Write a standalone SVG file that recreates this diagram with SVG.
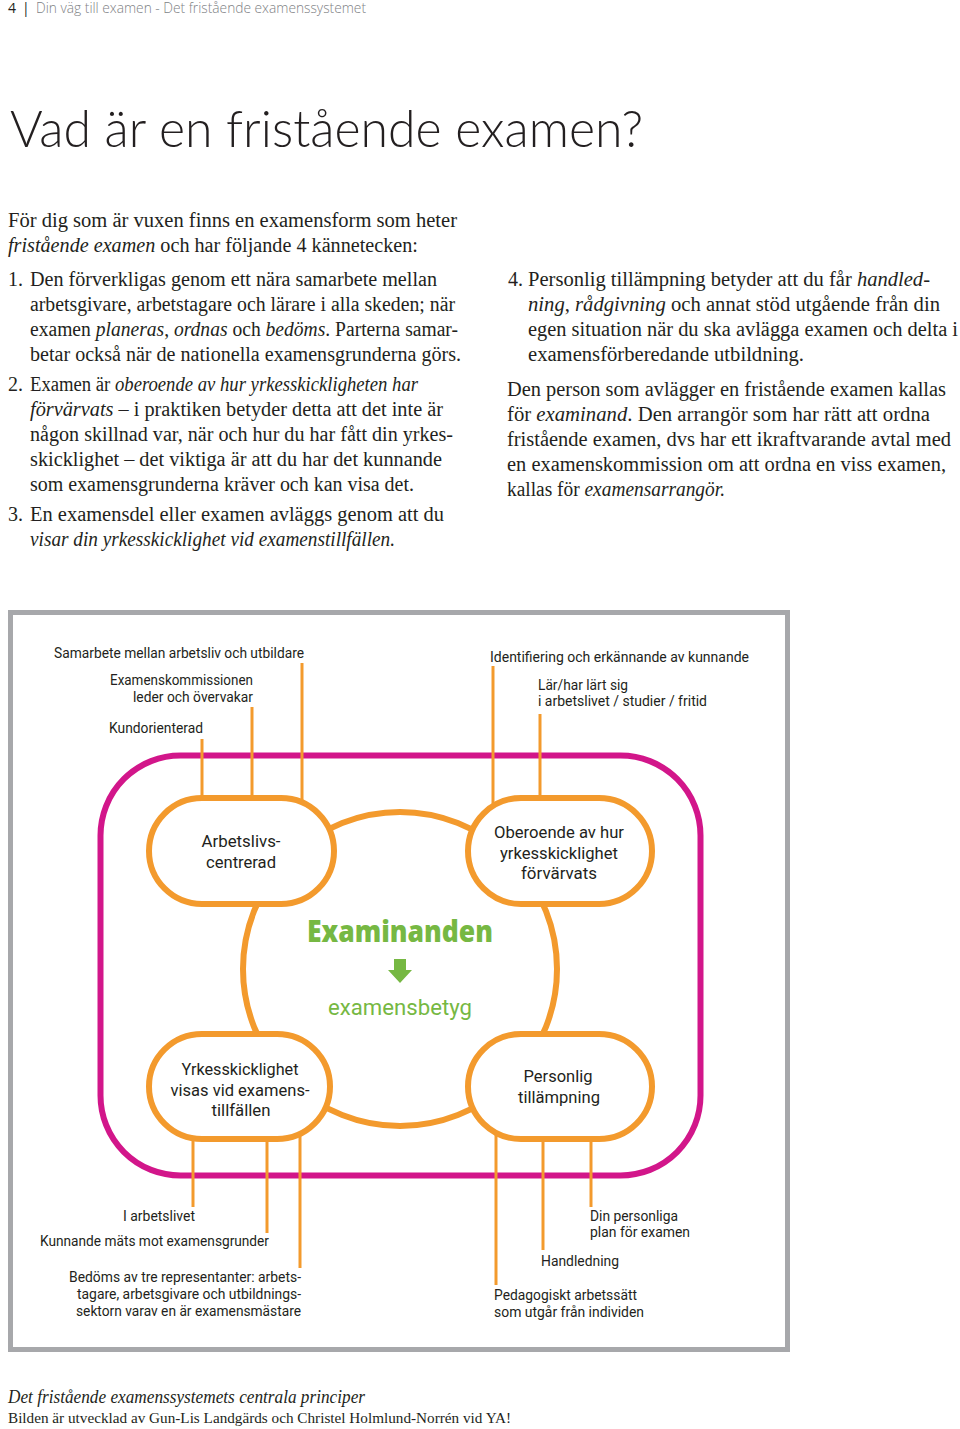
<svg xmlns="http://www.w3.org/2000/svg" width="960" height="1429" viewBox="0 0 960 1429">
<style>
.hdr{font-family:"Open Sans","Liberation Sans",sans-serif;font-size:14px;fill:#808285;font-weight:300}
.title{font-family:"Lato","Open Sans",sans-serif;font-size:52px;font-weight:300;fill:#231f20}
.body{font-family:"Liberation Serif",serif;font-size:20px;fill:#231f20}
.it{font-style:italic}
.lbl{font-family:"Roboto","Open Sans",sans-serif;font-size:14px;fill:#231f20}
.nt{font-family:"Roboto","Open Sans",sans-serif;font-size:17px;fill:#231f20;text-anchor:middle}
.node{fill:#fff;stroke:#f39a2d;stroke-width:6}
.ln{stroke:#f39a2d;stroke-width:3;fill:none}
.cap{font-family:"Liberation Serif",serif;fill:#231f20}
</style>

<!-- header -->
<text x="8" y="13" class="hdr" style="fill:#231f20;font-weight:400">4</text>
<text x="22" y="13" class="hdr" style="fill:#231f20;font-weight:400">|</text>
<text x="36" y="13" class="hdr" textLength="330" lengthAdjust="spacingAndGlyphs">Din väg till examen - Det fristående examenssystemet</text>

<text x="10" y="147" class="title" textLength="633" lengthAdjust="spacingAndGlyphs">Vad är en fristående examen?</text>

<!-- left column -->
<g class="body">
<text x="8" y="227" textLength="449" lengthAdjust="spacingAndGlyphs">För dig som är vuxen finns en examensform som heter</text>
<text x="8" y="252" textLength="410" lengthAdjust="spacingAndGlyphs"><tspan class="it">fristående examen</tspan> och har följande 4 kännetecken:</text>
<text x="8" y="286">1.</text>
<text x="30" y="286" textLength="407" lengthAdjust="spacingAndGlyphs">Den förverkligas genom ett nära samarbete mellan</text>
<text x="30" y="311" textLength="425" lengthAdjust="spacingAndGlyphs">arbetsgivare, arbetstagare och lärare i alla skeden; när</text>
<text x="30" y="336" textLength="428" lengthAdjust="spacingAndGlyphs">examen <tspan class="it">planeras</tspan>, <tspan class="it">ordnas</tspan> och <tspan class="it">bedöms</tspan>.  Parterna samar-</text>
<text x="30" y="361" textLength="431" lengthAdjust="spacingAndGlyphs">betar också när de nationella examensgrunderna görs.</text>
<text x="8" y="391">2.</text>
<text x="30" y="391" textLength="388" lengthAdjust="spacingAndGlyphs">Examen är <tspan class="it">oberoende av hur yrkesskickligheten har</tspan></text>
<text x="30" y="416" textLength="413" lengthAdjust="spacingAndGlyphs"><tspan class="it">förvärvats</tspan> – i praktiken betyder detta att det inte är</text>
<text x="30" y="441" textLength="423" lengthAdjust="spacingAndGlyphs">någon skillnad var, när och hur du har fått din yrkes-</text>
<text x="30" y="466" textLength="412" lengthAdjust="spacingAndGlyphs">skicklighet – det viktiga är att du har det kunnande</text>
<text x="30" y="491" textLength="384" lengthAdjust="spacingAndGlyphs">som examensgrunderna kräver och kan visa det.</text>
<text x="8" y="521">3.</text>
<text x="30" y="521" textLength="414" lengthAdjust="spacingAndGlyphs">En examensdel eller examen avläggs genom att du</text>
<text x="30" y="546" textLength="365" lengthAdjust="spacingAndGlyphs" class="it">visar din yrkesskicklighet vid examenstillfällen.</text>
</g>

<!-- right column -->
<g class="body">
<text x="508" y="286">4.</text>
<text x="528" y="286" textLength="402" lengthAdjust="spacingAndGlyphs">Personlig tillämpning betyder att du får <tspan class="it">handled-</tspan></text>
<text x="528" y="311" textLength="412" lengthAdjust="spacingAndGlyphs"><tspan class="it">ning</tspan>, <tspan class="it">rådgivning</tspan> och annat stöd utgående från din</text>
<text x="528" y="336" textLength="430" lengthAdjust="spacingAndGlyphs">egen situation när du ska avlägga examen och delta i</text>
<text x="528" y="361" textLength="276" lengthAdjust="spacingAndGlyphs">examensförberedande utbildning.</text>
<text x="507" y="396" textLength="439" lengthAdjust="spacingAndGlyphs">Den person som avlägger en fristående examen kallas</text>
<text x="507" y="421" textLength="423" lengthAdjust="spacingAndGlyphs">för <tspan class="it">examinand</tspan>. Den arrangör som har rätt att ordna</text>
<text x="507" y="446" textLength="444" lengthAdjust="spacingAndGlyphs">fristående examen, dvs har ett ikraftvarande avtal med</text>
<text x="507" y="471" textLength="439" lengthAdjust="spacingAndGlyphs">en examenskommission om att ordna en viss examen,</text>
<text x="507" y="496" textLength="218" lengthAdjust="spacingAndGlyphs">kallas för <tspan class="it">examensarrangör.</tspan></text>
</g>

<!-- frame -->
<rect x="10.5" y="612.5" width="777" height="737" fill="none" stroke="#a7a8ab" stroke-width="5"/>
<rect x="100.5" y="755.5" width="600" height="420" rx="80" ry="80" fill="none" stroke="#d2168a" stroke-width="6"/>

<!-- connectors -->
<g id="connectors">
<circle cx="400" cy="969" r="157" class="ln" style="stroke-width:6"/>
<line x1="202" y1="739" x2="202" y2="810" class="ln"/>
<line x1="252" y1="707" x2="252" y2="810" class="ln"/>
<line x1="302" y1="663" x2="302" y2="810" class="ln"/>
<line x1="493" y1="666" x2="493" y2="815" class="ln"/>
<line x1="540" y1="714" x2="540" y2="810" class="ln"/>
<line x1="193" y1="1125" x2="193" y2="1207" class="ln"/>
<line x1="267" y1="1125" x2="267" y2="1233" class="ln"/>
<line x1="300" y1="1125" x2="300" y2="1268" class="ln"/>
<line x1="496" y1="1125" x2="496" y2="1285" class="ln"/>
<line x1="543" y1="1125" x2="543" y2="1250" class="ln"/>
<line x1="591" y1="1125" x2="591" y2="1207" class="ln"/>
</g>

<!-- line labels -->
<g id="labels-top">
<text x="54" y="658" class="lbl" textLength="250" lengthAdjust="spacingAndGlyphs">Samarbete mellan arbetsliv och utbildare</text>
<text x="110" y="685" class="lbl" textLength="143" lengthAdjust="spacingAndGlyphs">Examenskommissionen</text>
<text x="133" y="702" class="lbl" textLength="120" lengthAdjust="spacingAndGlyphs">leder och övervakar</text>
<text x="109" y="733" class="lbl" textLength="94" lengthAdjust="spacingAndGlyphs">Kundorienterad</text>
<text x="490" y="662" class="lbl" textLength="259" lengthAdjust="spacingAndGlyphs">Identifiering och erkännande av kunnande</text>
<text x="538" y="690" class="lbl" textLength="90" lengthAdjust="spacingAndGlyphs">Lär/har lärt sig</text>
<text x="538" y="706" class="lbl" textLength="169" lengthAdjust="spacingAndGlyphs">i arbetslivet / studier / fritid</text>
</g>
<g id="labels-bottom">
<text x="123" y="1221" class="lbl" textLength="72" lengthAdjust="spacingAndGlyphs">I arbetslivet</text>
<text x="40" y="1246" class="lbl" textLength="229" lengthAdjust="spacingAndGlyphs">Kunnande mäts mot examensgrunder</text>
<text x="69" y="1282" class="lbl" textLength="232" lengthAdjust="spacingAndGlyphs">Bedöms av tre representanter: arbets-</text>
<text x="77" y="1299" class="lbl" textLength="224" lengthAdjust="spacingAndGlyphs">tagare, arbetsgivare och utbildnings-</text>
<text x="76" y="1316" class="lbl" textLength="225" lengthAdjust="spacingAndGlyphs">sektorn varav en är examensmästare</text>
<text x="590" y="1221" class="lbl" textLength="88" lengthAdjust="spacingAndGlyphs">Din personliga</text>
<text x="590" y="1237" class="lbl" textLength="100" lengthAdjust="spacingAndGlyphs">plan för examen</text>
<text x="541" y="1266" class="lbl" textLength="78" lengthAdjust="spacingAndGlyphs">Handledning</text>
<text x="494" y="1300" class="lbl" textLength="143" lengthAdjust="spacingAndGlyphs">Pedagogiskt arbetssätt</text>
<text x="494" y="1317" class="lbl" textLength="150" lengthAdjust="spacingAndGlyphs">som utgår från individen</text>
</g>

<!-- nodes -->
<g id="node-arbetslivs">
<rect x="149" y="798" width="185" height="106" rx="53" class="node"/>
<text x="241" y="847" class="nt" textLength="79" lengthAdjust="spacingAndGlyphs">Arbetslivs-</text>
<text x="241" y="868" class="nt" textLength="70" lengthAdjust="spacingAndGlyphs">centrerad</text>
</g>
<g id="node-oberoende">
<rect x="468" y="798" width="184" height="106" rx="53" class="node"/>
<text x="559" y="838" class="nt" textLength="130" lengthAdjust="spacingAndGlyphs">Oberoende av hur</text>
<text x="559" y="859" class="nt" textLength="118" lengthAdjust="spacingAndGlyphs">yrkesskicklighet</text>
<text x="559" y="879" class="nt" textLength="76" lengthAdjust="spacingAndGlyphs">förvärvats</text>
</g>
<g id="node-yrkes">
<rect x="149" y="1034" width="181" height="105" rx="53" class="node"/>
<text x="240" y="1075" class="nt" textLength="117" lengthAdjust="spacingAndGlyphs">Yrkesskicklighet</text>
<text x="240" y="1096" class="nt" textLength="139" lengthAdjust="spacingAndGlyphs">visas vid examens-</text>
<text x="241" y="1116" class="nt" textLength="59" lengthAdjust="spacingAndGlyphs">tillfällen</text>
</g>
<g id="node-personlig">
<rect x="468" y="1034" width="184" height="105" rx="53" class="node"/>
<text x="558" y="1082" class="nt" textLength="69" lengthAdjust="spacingAndGlyphs">Personlig</text>
<text x="559" y="1103" class="nt" textLength="82" lengthAdjust="spacingAndGlyphs">tillämpning</text>
</g>
<g id="node-examinanden">
<text x="400" y="942" text-anchor="middle" font-family="'Open Sans','Liberation Sans',sans-serif" font-weight="800" font-size="30" fill="#76b843" textLength="186" lengthAdjust="spacingAndGlyphs">Examinanden</text>
<polygon points="394,959 406,959 406,970 412,970 400,983 388,970 394,970" fill="#76b843"/>
<text x="400" y="1015" text-anchor="middle" font-family="'Roboto','Open Sans',sans-serif" font-size="22" fill="#76b843" textLength="144" lengthAdjust="spacingAndGlyphs">examensbetyg</text>
</g>

<!-- caption -->
<text x="8" y="1403" class="cap it" font-size="18" textLength="357" lengthAdjust="spacingAndGlyphs">Det fristående examenssystemets centrala principer</text>
<text x="8" y="1423" class="cap" font-size="15" textLength="503" lengthAdjust="spacingAndGlyphs">Bilden är utvecklad av Gun-Lis Landgärds och Christel Holmlund-Norrén vid YA!</text>
</svg>
